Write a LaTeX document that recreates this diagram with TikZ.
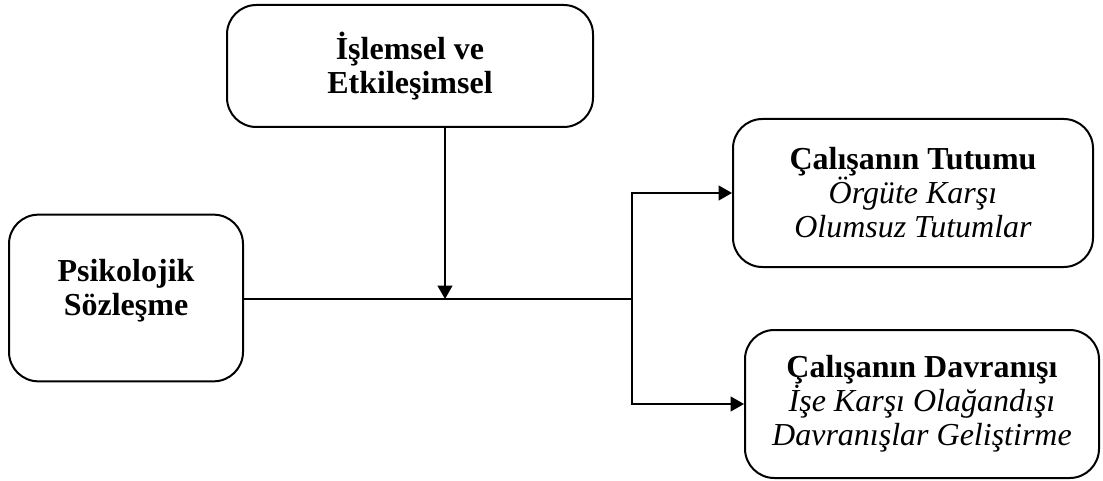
\documentclass[tikz,border=0pt]{standalone}
\usepackage{fontspec}
\setmainfont{Liberation Serif}
\usepackage{tikz}
\usetikzlibrary{positioning,arrows.meta,calc}

\begin{document}
\begin{tikzpicture}[x=0.75pt,y=-0.75pt,
  box/.style={draw,line width=1.5pt,rounded corners=22pt,align=center,
             font=\fontsize{24}{25.5}\selectfont,inner sep=0pt},
  ar/.style={-{Triangle[length=10pt,width=11pt]},line width=1.5pt},
  ln/.style={line width=1.5pt}]

\useasboundingbox (0,0) rectangle (1103,481);

\node[box,minimum width=274.5pt,minimum height=91.5pt] (islem) at (410,66)
  {\textbf{İşlemsel ve}\\\textbf{Etkileşimsel}};
\node[box,minimum width=175.5pt,minimum height=125pt] (psk) at (126,298)
  {\textbf{Psikolojik}\\\textbf{Sözleşme}\\[-10pt]\mbox{}};
\node[box,minimum width=270pt,minimum height=111pt] (tutum) at (913,193)
  {\textbf{Çalışanın Tutumu}\\\textit{Örgüte Karşı}\\\textit{Olumsuz Tutumlar}};
\node[box,minimum width=265.5pt,minimum height=111pt] (davr) at (922,404)
  {\textbf{Çalışanın Davranışı}\\\textit{İşe Karşı Olağandışı}\\\textit{Davranışlar Geliştirme}};

% junctions
\coordinate (m) at (445,299);
\coordinate (j) at (632,299);

\draw[ln] (psk.east |- j) -- (j);
\draw[ar] (m |- islem.south) -- (m);
\draw[ar] (j) |- (tutum.west);
\draw[ar] (j) |- (davr.west);

\end{tikzpicture}
\end{document}
